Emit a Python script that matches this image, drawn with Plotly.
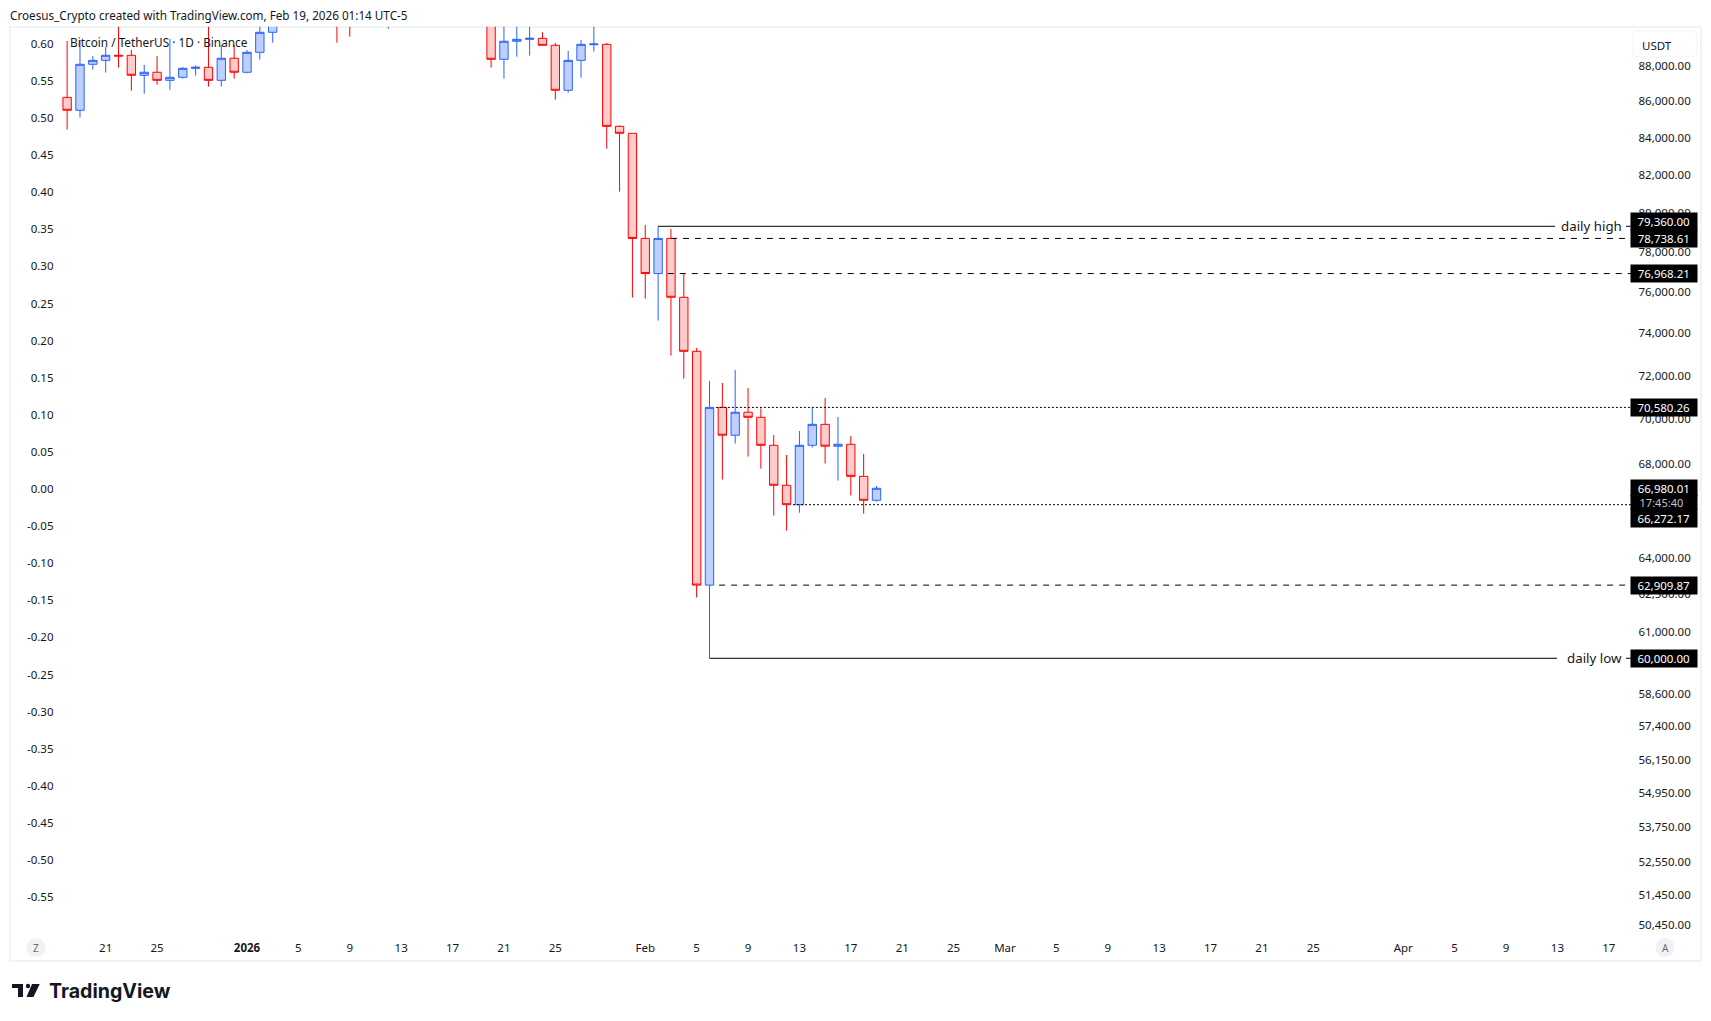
"""BTCUSDT 1D, precios leidos a mano de la captura de TradingView."""

import math

import pandas as pd
import plotly.graph_objects as go

W, H = 1711, 1021
FONT = "Noto Sans"
TEXT = "#131722"

# Velas diarias desde el 18 dic 2025 hasta el 19 feb 2026.
DATES = pd.date_range("2025-12-18", "2026-02-19", freq="D")
OPENS = [
    86270, 85550, 88135, 88360, 88650, 88650, 87510, 87680, 87225, 87395, 87905, 87965, 87225, 88480,
    87680, 88820, 89980, 90500, 91300, 93800, 93700, 91300, 91000, 90500, 90400, 90800, 91100, 95400,
    96900, 95600, 95500, 95100, 93600, 92500, 88420, 89460, 89570, 89630, 89225, 86665, 88360, 89260,
    89280, 84665, 84285,
    78738.61, 76968.21, 78738.61, 75795, 73190, 62909.87, 70580.26, 69320, 70360, 70130, 68870, 67110,
    66272.17, 68870, 69810, 68830, 68915, 67500, 66460,
]
HIGHS = [
    89475, 89540, 88610, 89130, 90500, 88955, 88100, 88610, 89590, 87980, 88075, 90500, 89245, 89245,
    88955, 90500, 90700, 91600, 94700, 94400, 93800, 91600, 92000, 90800, 91100, 92400, 96000, 97900,
    97200, 95900, 95600, 95500, 93800, 93400, 90500, 90400, 91000, 89980, 89360, 88900, 89540, 90500,
    89360, 84720, 84285,
    79430, 79360, 79225, 76968.21, 73350, 71800, 71705, 72315, 71475, 70540, 69330, 68440, 69510,
    70580, 71015, 70145, 69290, 68485, 67080,
]
LOWS = [
    84485, 85145, 87830, 87660, 87945, 86645, 86475, 86980, 86700, 87320, 87490, 86870, 86870, 87320,
    87620, 88400, 89380, 90400, 91100, 93000, 90900, 89380, 89725, 90350, 90350, 90190, 90900, 94500,
    95100, 94500, 94900, 93000, 91900, 87945, 87320, 88570, 88630, 89225, 86140, 86530, 87375, 88860,
    83450, 81160, 75780,
    75730, 74660, 72985, 71910, 62405, 60000, 67355, 68945, 68370, 67840, 65805, 65170, 65930, 68770,
    68060, 67315, 66665, 65890, 66405,
]
CLOSES = [
    85550, 88135, 88360, 88650, 88610, 87510, 87680, 87225, 87395, 87905, 87965, 87225, 88480, 87680,
    88820, 89980, 90500, 91300, 93800, 93700, 91300, 91000, 90500, 90400, 90800, 91100, 95400, 96900,
    95600, 95500, 95100, 93600, 92500, 88420, 89460, 89570, 89630, 89225, 86665, 88360, 89280, 89300,
    84665, 84285, 78738.61,
    76968.21, 78738.61, 75795, 73190, 62909.87, 70580.26, 69320, 70360, 70130, 68870, 67110, 66272.17,
    68870, 69810, 68830, 68915, 67500, 66460, 66980.01,
]

# Escalas y rangos.
PRICE_TICKS = [88000, 86000, 84000, 82000, 80000, 78000, 76000, 74000, 72000, 70000, 68000, 64000, 62500,
               61000, 58600, 57400, 56150, 54950, 53750, 52550, 51450, 50450]
RATIO_TICKS = [0.60, 0.55, 0.50, 0.45, 0.40, 0.35, 0.30, 0.25, 0.20, 0.15, 0.10, 0.05, 0.00, -0.05, -0.10,
               -0.15, -0.20, -0.25, -0.30, -0.35, -0.40, -0.45, -0.50, -0.55]
DATE_TICKS = ["2025-12-21", "2025-12-25", "2026-01-01", "2026-01-05", "2026-01-09", "2026-01-13", "2026-01-17",
              "2026-01-21", "2026-01-25", "2026-02-01", "2026-02-05", "2026-02-09", "2026-02-13", "2026-02-17",
              "2026-02-21", "2026-02-25", "2026-03-01", "2026-03-05", "2026-03-09", "2026-03-13", "2026-03-17",
              "2026-03-21", "2026-03-25", "2026-04-01", "2026-04-05", "2026-04-09", "2026-04-13", "2026-04-17"]
DATE_LABELS = ["21", "25", "<b>2026</b>", "5", "9", "13", "17", "21", "25", "Feb", "5", "9", "13", "17", "21",
               "25", "Mar", "5", "9", "13", "17", "21", "25", "Apr", "5", "9", "13", "17"]
PRICE_RANGE = [50159, 90306]
RATIO_RANGE = [-0.601, 0.623]
DATE_RANGE = ["2025-12-17 06:00", "2026-04-19"]

# Niveles dibujados: precio, fecha de inicio, trazo.
LEVEL_PRICES = [79360.00, 78738.61, 76968.21, 70580.26, 66272.17, 62909.87, 60000.00]
LEVEL_STARTS = ["2026-02-02", "2026-02-03", "2026-02-02 18:00", "2026-02-06 12:00", "2026-02-12 12:00",
                "2026-02-06 18:00", "2026-02-06"]
LEVEL_DASHES = ["solid", "6px,6px", "6px,6px", "2px,2px", "2px,2px", "6px,6px", "solid"]

# Etiquetas negras de la derecha: texto, centro (px), alto (px).
TAG_TEXTS = ["79,360.00", "78,738.61", "76,968.21", "70,580.26", "66,980.01", "17:45:40", "66,272.17",
             "62,909.87", "60,000.00"]
TAG_CENTERS = [221, 238.5, 273, 407.5, 487.7, 502, 518.3, 585, 658]
TAG_HEIGHTS = [17, 17, 17, 17, 16, 14, 18, 17, 17]


def px_x(px):
    return px / W


def px_y(py):
    return 1 - py / H


def rounded_rect(x0, y0, x1, y1, r):
    """Rectangulo redondeado como path en coordenadas de papel."""
    a, b, c, d = px_x(x0), px_x(x1), px_y(y0), px_y(y1)
    rx, ry = r / W, r / H
    return (f"M {a + rx} {c} L {b - rx} {c} Q {b} {c} {b} {c - ry} L {b} {d + ry} Q {b} {d} {b - rx} {d} "
            f"L {a + rx} {d} Q {a} {d} {a} {d + ry} L {a} {c - ry} Q {a} {c} {a + rx} {c} Z")


def polygon(points):
    return "M " + " L ".join(f"{px_x(x)} {px_y(y)}" for x, y in points) + " Z"


def paper_text(x, y, text, size, color=TEXT, anchor="left", family=FONT):
    return dict(xref="paper", yref="paper", x=px_x(x), y=px_y(y), text=text, showarrow=False, xanchor=anchor,
                yanchor="middle", font=dict(family=family, size=size, color=color))


fig = go.Figure()
fig.add_trace(go.Candlestick(
    x=DATES, open=OPENS, high=HIGHS, low=LOWS, close=CLOSES, whiskerwidth=0,
    increasing=dict(line=dict(color="#2962FF", width=1), fillcolor="#BFCFFF"),
    decreasing=dict(line=dict(color="#FF0000", width=1), fillcolor="#FFCCCC"),
))

for price, start, dash in zip(LEVEL_PRICES, LEVEL_STARTS, LEVEL_DASHES):
    fig.add_trace(go.Scatter(x=[start, DATE_RANGE[1]], y=[price, price], mode="lines",
                             line=dict(color="#000000", width=1, dash=dash)))

# Traza invisible para que exista el eje izquierdo.
fig.add_trace(go.Scatter(x=DATES[:len(RATIO_TICKS)], y=RATIO_TICKS, yaxis="y2", mode="lines",
                         line=dict(color="rgba(0,0,0,0)"), hoverinfo="skip"))

annotations = [
    paper_text(8, 15, "Croesus_Crypto created with TradingView.com, Feb 19, 2026 01:14 UTC-5", 11.7),
    paper_text(68, 42, "Bitcoin / TetherUS · 1D · Binance", 11.8),
    paper_text(1640, 45, "USDT", 11.5),
    paper_text(36, 948, "Z", 10, "#6a6d78", "center"),
    paper_text(1665, 948, "A", 10, "#6a6d78", "center"),
    paper_text(47, 991, "<b>TradingView</b>", 19.6, "#131722", family="Inter"),
]

for text, center, height in zip(TAG_TEXTS, TAG_CENTERS, TAG_HEIGHTS):
    is_timer = ":" in text
    annotations.append(dict(
        xref="paper", yref="paper", x=px_x(1629.5), y=px_y(center), xanchor="left", yanchor="middle",
        width=65.5, height=height, borderpad=0, bgcolor="#000000", showarrow=False,
        align="left" if is_timer else "center", text="&nbsp;&nbsp;&nbsp;" + text if is_timer else text,
        font=dict(family=FONT, size=11 if is_timer else 11.5, color="#c4c6ce" if is_timer else "#ffffff"),
    ))

logo = dict(xref="paper", yref="paper", line=dict(width=0), fillcolor="#131722")
shapes = [
    dict(type="rect", xref="paper", yref="paper", x0=px_x(10), x1=px_x(1701), y0=px_y(961), y1=px_y(27),
         line=dict(color="#F2F3F5", width=2), layer="below"),
    dict(type="path", xref="paper", yref="paper", path=rounded_rect(1633, 31, 1697, 57, 5),
         line=dict(color="#F0F3FA", width=1), fillcolor="#ffffff", layer="below"),
    dict(type="circle", xref="paper", yref="paper", x0=px_x(26.5), x1=px_x(45.5), y0=px_y(957), y1=px_y(938),
         line=dict(width=0), fillcolor="#F1F2F4", layer="below"),
    dict(type="circle", xref="paper", yref="paper", x0=px_x(1655.5), x1=px_x(1674.5), y0=px_y(957), y1=px_y(938),
         line=dict(width=0), fillcolor="#F1F2F4", layer="below"),
    # Logo de TradingView.
    dict(type="path", path=polygon([(12, 984), (23, 984), (23, 997), (18, 997), (18, 988), (12, 988)]), **logo),
    dict(type="circle", x0=px_x(25.8), x1=px_x(30.2), y0=px_y(988.2), y1=px_y(983.8), **logo),
    dict(type="path", path=polygon([(32, 984), (39.7, 984), (33.5, 997), (26.5, 997)]), **logo),
]

# Rotulos sobre la linea: un parche blanco la corta sin tapar el nivel vecino.
for label, py, left in (("daily high", 226, 1555), ("daily low", 658, 1557)):
    shapes.append(dict(type="rect", xref="paper", yref="paper", x0=px_x(left), x1=px_x(1626), y0=px_y(py + 5),
                       y1=px_y(py - 5), line=dict(width=0), fillcolor="#ffffff", layer="above"))
    ann = paper_text(1627, py, label, 13.3, anchor="right")
    ann.update(borderpad=4)
    annotations.append(ann)

fig.update_layout(
    width=W, height=H, margin=dict(l=0, r=0, t=0, b=0), autosize=False,
    paper_bgcolor="#ffffff", plot_bgcolor="#ffffff", showlegend=False, boxgap=0.35, boxgroupgap=0,
    font=dict(family=FONT, size=11.5, color=TEXT), annotations=annotations, shapes=shapes,
    xaxis=dict(type="date", domain=[px_x(57.5), px_x(1634.5)], range=DATE_RANGE, showgrid=False, zeroline=False,
               rangeslider=dict(visible=False), showline=False, ticks="", tickmode="array",
               tickvals=DATE_TICKS, ticktext=DATE_LABELS, tickangle=0, ticklabelstandoff=4),
    yaxis=dict(type="log", side="right", domain=[px_y(935), px_y(26.7)],
               range=[math.log10(v) for v in PRICE_RANGE], showgrid=False, zeroline=False, showline=False,
               ticks="", tickmode="array", tickvals=PRICE_TICKS, ticktext=[f"{v:,.2f}" for v in PRICE_TICKS],
               ticklabelstandoff=3, ticklabelshift=-1),
    yaxis2=dict(overlaying="y", side="left", anchor="x", range=RATIO_RANGE, showgrid=False, zeroline=False,
                showline=False, ticks="", tickmode="array", tickvals=RATIO_TICKS,
                ticktext=[f"{v:.2f}" for v in RATIO_TICKS], ticklabelstandoff=3),
)

fig.write_html("out.html", config=dict(displayModeBar=False), post_script="document.body.style.margin='0';")
